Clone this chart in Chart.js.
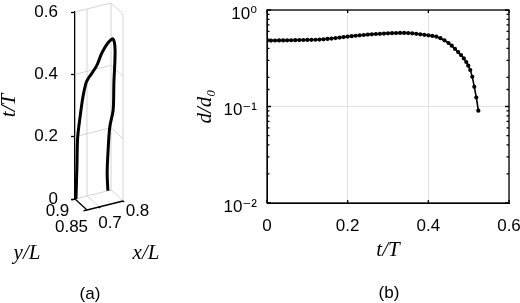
<!DOCTYPE html>
<html>
<head>
<meta charset="utf-8">
<script src="https://cdn.jsdelivr.net/npm/chart.js@4.4.0/dist/chart.umd.min.js"></script>
<style>
    body { margin: 0; background: #fff; }
    #wrap { position: relative; width: 520px; height: 303px; overflow: hidden; }
    canvas { position: absolute; top: 0; }
    #chart-a { left: 0; }
    #chart-b { left: 190px; }
    .lbl { position: absolute; transform: translate(-50%, -50%); white-space: nowrap; color: #000; line-height: 1; }
    .math { font-family: 'Liberation Serif', 'Times New Roman', serif; font-style: italic; font-size: 21px; }
    .cap { font-family: 'Liberation Sans', Arial, sans-serif; font-size: 17px; }
</style>
</head>
<body>
<div id="wrap">
    <canvas id="chart-a" width="190" height="303"></canvas>
    <canvas id="chart-b" width="330" height="303"></canvas>
    <div class="lbl math" style="left:27px;top:252px">y/L</div>
    <div class="lbl math" style="left:146px;top:252px">x/L</div>
    <div class="lbl cap" style="left:90px;top:293px">(a)</div>
    <div class="lbl cap" style="left:389px;top:292px">(b)</div>
</div>
<script>
var sans = "'Liberation Sans', 'DejaVu Sans', Arial, sans-serif";
var serif = "'Liberation Serif', 'DejaVu Serif', serif";

// (b) separation d/d0 against t/T
var tValues = [0, 0.01, 0.02, 0.03, 0.04, 0.05, 0.06, 0.07, 0.08, 0.09,
    0.10, 0.11, 0.12, 0.13, 0.14, 0.15, 0.16, 0.17, 0.18, 0.19,
    0.20, 0.21, 0.22, 0.23, 0.24, 0.25, 0.26, 0.27, 0.28, 0.29,
    0.30, 0.31, 0.32, 0.33, 0.34, 0.35, 0.36, 0.37, 0.38, 0.39,
    0.40, 0.41, 0.42, 0.43, 0.44, 0.45, 0.458, 0.466, 0.474, 0.481,
    0.488, 0.494, 0.499, 0.504, 0.509, 0.514, 0.519, 0.524];
var dValues = [0.481, 0.482, 0.483, 0.484, 0.484, 0.485, 0.486, 0.487, 0.488, 0.489,
    0.490, 0.491, 0.492, 0.494, 0.497, 0.501, 0.506, 0.512, 0.518, 0.524,
    0.530, 0.536, 0.541, 0.546, 0.551, 0.556, 0.560, 0.564, 0.567, 0.570,
    0.573, 0.575, 0.577, 0.578, 0.578, 0.577, 0.573, 0.567, 0.560, 0.553,
    0.546, 0.539, 0.529, 0.510, 0.485, 0.455, 0.427, 0.396, 0.366, 0.341,
    0.315, 0.289, 0.265, 0.239, 0.203, 0.160, 0.124, 0.0905];
var xTicksB = [0, 0.2, 0.4, 0.6];

// (a) path of the pair: left core going up, then right core coming down
var pathX = [0.653, 0.652, 0.651, 0.655, 0.662, 0.670, 0.676, 0.688, 0.704, 0.718, 0.736,
    0.767, 0.777, 0.782, 0.786, 0.780, 0.780, 0.783, 0.787];
var pathY = [0.899, 0.894, 0.890, 0.884, 0.879, 0.874, 0.872, 0.867, 0.862, 0.856, 0.849,
    0.859, 0.860, 0.870, 0.877, 0.885, 0.892, 0.899, 0.900];
var pathT = [0, 0.107, 0.203, 0.273, 0.340, 0.387, 0.400, 0.420, 0.447, 0.487, 0.520,
    0.520, 0.482, 0.368, 0.276, 0.217, 0.138, 0.059, 0];
var xLim = [0.65, 0.8], yLim = [0.85, 0.9], tLim = [0, 0.6];
var xTicksA = [0.7, 0.8], yTicksA = [0.9, 0.85], tGrid = [0.2, 0.4, 0.6];

// oblique view: how far x/L and y/L move a point across and up the panel
function proj(x, y, t) {
    var dx = x - xLim[0], dy = yLim[1] - y;
    return { x: 240 * dx + 240 * dy, y: t + (60 * dx - 220 * dy) / 311.7 };
}

function isDecade(v) {
    var l = Math.log10(v);
    return Math.abs(l - Math.round(l)) < 1e-9;
}
var sup = { '0': '\u2070', '-1': '\u207B\u00B9', '-2': '\u207B\u00B2' };

// keep the plot box where it is, whatever the tick labels need
function noEdgePad(s) {
    s.paddingTop = 0; s.paddingBottom = 0; s.paddingLeft = 0; s.paddingRight = 0;
}

// label shift from its floor tick, px (matlab places these a bit unevenly)
var yLabelShift = [[-17.5, 12.5], [-15.5, 17]];
var xLabelShift = [[11, 16.5], [14.5, 10.5]];

var box3d = {
    id: 'box3d',
    beforeDatasetsDraw(chart) {
        var ctx = chart.ctx, sx = chart.scales.x, sy = chart.scales.y;
        var P = function (x, y, t) {
            var p = proj(x, y, t);
            return [sx.getPixelForValue(p.x), sy.getPixelForValue(p.y)];
        };
        var seg = function (a, b) { ctx.moveTo(a[0], a[1]); ctx.lineTo(b[0], b[1]); };
        ctx.save();
        ctx.lineWidth = 1;
        ctx.strokeStyle = '#d4d4d4';
        ctx.beginPath();
        // back walls
        xTicksA.forEach(function (xv) { seg(P(xv, yLim[1], 0), P(xv, yLim[1], tLim[1])); });
        seg(P(xLim[1], yLim[0], 0), P(xLim[1], yLim[0], tLim[1]));
        tGrid.forEach(function (tv) {
            seg(P(xLim[0], yLim[1], tv), P(xLim[1], yLim[1], tv));
            seg(P(xLim[1], yLim[1], tv), P(xLim[1], yLim[0], tv));
        });
        // floor
        seg(P(xLim[0], yLim[1], 0), P(xLim[1], yLim[1], 0));
        seg(P(xLim[1], yLim[1], 0), P(xLim[1], yLim[0], 0));
        seg(P(0.7, yLim[1], 0), P(0.7, yLim[0], 0));
        ctx.stroke();

        ctx.strokeStyle = '#000';
        ctx.lineWidth = 1.3;
        ctx.beginPath();
        seg(P(xLim[0], yLim[1], 0), P(xLim[0], yLim[0], 0));
        seg(P(xLim[0], yLim[0], 0), P(xLim[1], yLim[0], 0));
        yTicksA.forEach(function (yv) { seg(P(xLim[0], yv, 0), P(xLim[0] - 0.015, yv, 0)); });
        xTicksA.forEach(function (xv) { seg(P(xv, yLim[0], 0), P(xv, yLim[0] - 0.005, 0)); });
        ctx.stroke();

        ctx.fillStyle = '#000';
        ctx.font = '17px ' + sans;
        ctx.textAlign = 'center';
        ctx.textBaseline = 'middle';
        yTicksA.forEach(function (yv, i) {
            var p = P(xLim[0], yv, 0);
            ctx.fillText(String(yv), p[0] + yLabelShift[i][0], p[1] + yLabelShift[i][1]);
        });
        xTicksA.forEach(function (xv, i) {
            var p = P(xv, yLim[0], 0);
            ctx.fillText(String(xv), p[0] + xLabelShift[i][0], p[1] + xLabelShift[i][1]);
        });
        ctx.restore();
    }
};

var frame = {
    id: 'frame',
    afterDraw(chart) {
        var ctx = chart.ctx, a = chart.chartArea, sx = chart.scales.x, sy = chart.scales.y;
        ctx.save();
        ctx.strokeStyle = '#000';
        ctx.lineWidth = 1.3;
        ctx.strokeRect(a.left, a.top, a.right - a.left, a.bottom - a.top);
        ctx.beginPath();
        sx.ticks.forEach(function (t) {
            var px = sx.getPixelForValue(t.value);
            ctx.moveTo(px, a.bottom); ctx.lineTo(px, a.bottom - 3);
            ctx.moveTo(px, a.top); ctx.lineTo(px, a.top + 3);
        });
        sy.ticks.forEach(function (t) {
            var py = sy.getPixelForValue(t.value);
            var len = isDecade(t.value) ? 4 : 2.5;
            ctx.moveTo(a.left, py); ctx.lineTo(a.left + len, py);
            ctx.moveTo(a.right, py); ctx.lineTo(a.right - len, py);
        });
        ctx.stroke();
        ctx.restore();
    }
};

// chart (a)
var pathPts = pathX.map(function (x, i) { return proj(x, pathY[i], pathT[i]); });
new Chart(document.getElementById('chart-a'), {
    type: 'scatter',
    data: {
        datasets: [{
            data: pathPts,
            showLine: true,
            borderColor: '#000',
            borderWidth: 3,
            pointRadius: 0,
            tension: 0.3,
            clip: false
        }]
    },
    options: {
        responsive: false,
        animation: false,
        devicePixelRatio: 1,
        layout: { padding: { top: 12, right: 55, bottom: 104, left: 0 } },
        plugins: { legend: { display: false }, tooltip: { enabled: false } },
        scales: {
            x: { type: 'linear', display: false, min: 0, max: 60 },
            y: {
                min: tLim[0], max: tLim[1],
                afterFit: function (s) { s.width = 75; noEdgePad(s); },
                ticks: { stepSize: 0.2, padding: 13, color: '#000', font: { family: sans, size: 17 } },
                grid: { drawOnChartArea: false, tickLength: 4, tickColor: '#000', tickWidth: 1.3 },
                border: { color: '#000', width: 1.3 },
                title: {
                    display: true, text: 't/T', color: '#000',
                    font: { family: serif, style: 'italic', size: 21 },
                    padding: { top: -3, bottom: 0 }
                }
            }
        }
    },
    plugins: [box3d]
});

// chart (b)
new Chart(document.getElementById('chart-b'), {
    type: 'scatter',
    data: {
        datasets: [{
            data: tValues.map(function (t, i) { return { x: t, y: dValues[i] }; }),
            showLine: true,
            borderColor: '#000',
            backgroundColor: '#000',
            borderWidth: 1.6,
            pointRadius: 2.1,
            pointBorderWidth: 0
        }]
    },
    options: {
        responsive: false,
        animation: false,
        devicePixelRatio: 1,
        layout: { padding: { top: 10, right: 11, bottom: 40, left: 0 } },
        plugins: { legend: { display: false }, tooltip: { enabled: false } },
        scales: {
            x: {
                type: 'linear', min: 0, max: 0.6,
                afterBuildTicks: function (s) { s.ticks = xTicksB.map(function (v) { return { value: v }; }); },
                afterFit: function (s) { s.height = 60; noEdgePad(s); },
                ticks: { padding: 13, color: '#000', font: { family: sans, size: 17 } },
                grid: { color: '#e2e2e2', drawTicks: false },
                border: { color: '#000' },
                title: {
                    display: true, text: 't/T', color: '#000',
                    font: { family: serif, style: 'italic', size: 21 },
                    padding: { top: 0, bottom: 0 }
                }
            },
            y: {
                type: 'logarithmic', min: 0.01, max: 1,
                afterFit: function (s) { s.width = 77; noEdgePad(s); },
                ticks: {
                    autoSkip: false, padding: 10, labelOffset: 4, color: '#000',
                    font: { family: sans, size: 17 },
                    callback: function (v) { return isDecade(v) ? '10' + sup[String(Math.round(Math.log10(v)))] : ''; }
                },
                grid: {
                    drawTicks: false,
                    color: function (c) { return c.tick && isDecade(c.tick.value) ? '#e2e2e2' : 'rgba(0,0,0,0)'; }
                },
                border: { color: '#000' },
                title: {
                    display: true, text: 'd/d\u2080', color: '#000',
                    font: { family: serif, style: 'italic', size: 21 },
                    padding: { top: 3, bottom: 0 }
                }
            }
        }
    },
    plugins: [frame]
});
</script>
</body>
</html>
